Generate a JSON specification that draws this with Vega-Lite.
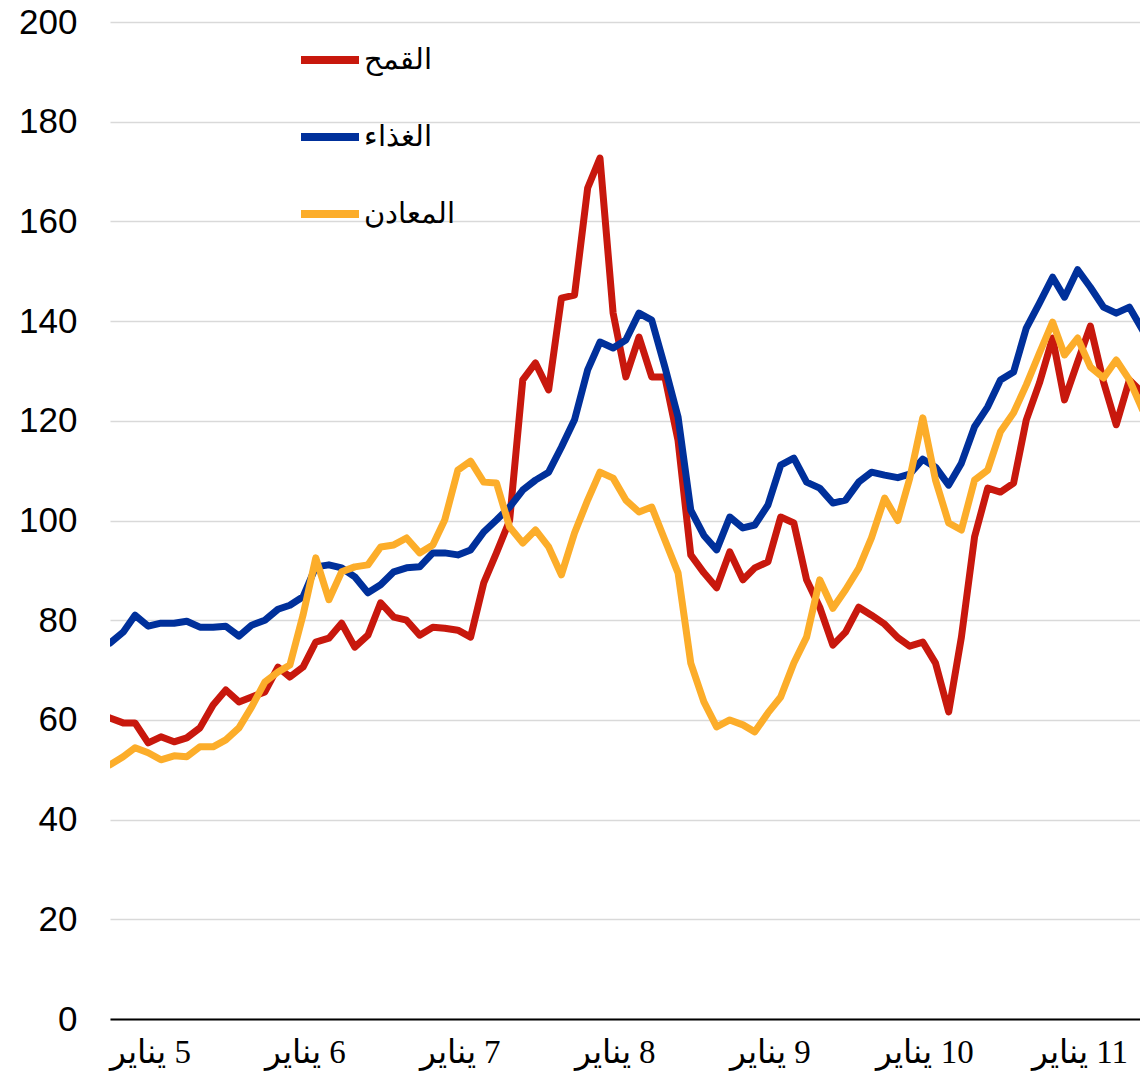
{
"$schema":"https://vega.github.io/schema/vega-lite/v6.json",
"width":1030,"height":997,
"autosize":{"type":"none"},
"padding":{"left":110,"top":22,"right":0,"bottom":63},
"background":"white",
"config":{"view":{"stroke":null}},
"data":{"values":[
{"date":"2005-01-01","series":"القمح","value":60.4},{"date":"2005-02-01","series":"القمح","value":59.4},{"date":"2005-03-01","series":"القمح","value":59.4},{"date":"2005-04-01","series":"القمح","value":55.4},{"date":"2005-05-01","series":"القمح","value":56.6},{"date":"2005-06-01","series":"القمح","value":55.6},{"date":"2005-07-01","series":"القمح","value":56.4},{"date":"2005-08-01","series":"القمح","value":58.4},{"date":"2005-09-01","series":"القمح","value":63.0},{"date":"2005-10-01","series":"القمح","value":66.0},{"date":"2005-11-01","series":"القمح","value":63.6},{"date":"2005-12-01","series":"القمح","value":64.6},
{"date":"2006-01-01","series":"القمح","value":65.6},{"date":"2006-02-01","series":"القمح","value":70.6},{"date":"2006-03-01","series":"القمح","value":68.6},{"date":"2006-04-01","series":"القمح","value":70.6},{"date":"2006-05-01","series":"القمح","value":75.6},{"date":"2006-06-01","series":"القمح","value":76.4},{"date":"2006-07-01","series":"القمح","value":79.4},{"date":"2006-08-01","series":"القمح","value":74.6},{"date":"2006-09-01","series":"القمح","value":77.0},{"date":"2006-10-01","series":"القمح","value":83.5},{"date":"2006-11-01","series":"القمح","value":80.6},{"date":"2006-12-01","series":"القمح","value":80.0},
{"date":"2007-01-01","series":"القمح","value":77.0},{"date":"2007-02-01","series":"القمح","value":78.6},{"date":"2007-03-01","series":"القمح","value":78.4},{"date":"2007-04-01","series":"القمح","value":78.0},{"date":"2007-05-01","series":"القمح","value":76.6},{"date":"2007-06-01","series":"القمح","value":87.5},{"date":"2007-07-01","series":"القمح","value":93.5},{"date":"2007-08-01","series":"القمح","value":100.0},{"date":"2007-09-01","series":"القمح","value":128.2},{"date":"2007-10-01","series":"القمح","value":131.6},{"date":"2007-11-01","series":"القمح","value":126.2},{"date":"2007-12-01","series":"القمح","value":144.6},
{"date":"2008-01-01","series":"القمح","value":145.2},{"date":"2008-02-01","series":"القمح","value":166.7},{"date":"2008-03-01","series":"القمح","value":172.7},{"date":"2008-04-01","series":"القمح","value":141.6},{"date":"2008-05-01","series":"القمح","value":128.8},{"date":"2008-06-01","series":"القمح","value":136.8},{"date":"2008-07-01","series":"القمح","value":128.8},{"date":"2008-08-01","series":"القمح","value":128.8},{"date":"2008-09-01","series":"القمح","value":116.1},{"date":"2008-10-01","series":"القمح","value":93.1},{"date":"2008-11-01","series":"القمح","value":89.5},{"date":"2008-12-01","series":"القمح","value":86.5},
{"date":"2009-01-01","series":"القمح","value":93.7},{"date":"2009-02-01","series":"القمح","value":88.1},{"date":"2009-03-01","series":"القمح","value":90.5},{"date":"2009-04-01","series":"القمح","value":91.7},{"date":"2009-05-01","series":"القمح","value":100.7},{"date":"2009-06-01","series":"القمح","value":99.5},{"date":"2009-07-01","series":"القمح","value":88.1},{"date":"2009-08-01","series":"القمح","value":82.6},{"date":"2009-09-01","series":"القمح","value":75.0},{"date":"2009-10-01","series":"القمح","value":77.6},{"date":"2009-11-01","series":"القمح","value":82.6},{"date":"2009-12-01","series":"القمح","value":81.0},
{"date":"2010-01-01","series":"القمح","value":79.2},{"date":"2010-02-01","series":"القمح","value":76.5},{"date":"2010-03-01","series":"القمح","value":74.8},{"date":"2010-04-01","series":"القمح","value":75.6},{"date":"2010-05-01","series":"القمح","value":71.4},{"date":"2010-06-01","series":"القمح","value":61.6},{"date":"2010-07-01","series":"القمح","value":76.6},{"date":"2010-08-01","series":"القمح","value":96.7},{"date":"2010-09-01","series":"القمح","value":106.5},{"date":"2010-10-01","series":"القمح","value":105.7},{"date":"2010-11-01","series":"القمح","value":107.5},{"date":"2010-12-01","series":"القمح","value":120.2},
{"date":"2011-01-01","series":"القمح","value":127.6},{"date":"2011-02-01","series":"القمح","value":136.6},{"date":"2011-03-01","series":"القمح","value":124.2},{"date":"2011-04-01","series":"القمح","value":131.8},{"date":"2011-05-01","series":"القمح","value":139.0},{"date":"2011-06-01","series":"القمح","value":127.8},{"date":"2011-07-01","series":"القمح","value":119.2},{"date":"2011-08-01","series":"القمح","value":128.2},{"date":"2011-09-01","series":"القمح","value":125.6},
{"date":"2005-01-01","series":"الغذاء","value":75.4},{"date":"2005-02-01","series":"الغذاء","value":77.6},{"date":"2005-03-01","series":"الغذاء","value":81.0},{"date":"2005-04-01","series":"الغذاء","value":78.8},{"date":"2005-05-01","series":"الغذاء","value":79.4},{"date":"2005-06-01","series":"الغذاء","value":79.4},{"date":"2005-07-01","series":"الغذاء","value":79.8},{"date":"2005-08-01","series":"الغذاء","value":78.6},{"date":"2005-09-01","series":"الغذاء","value":78.6},{"date":"2005-10-01","series":"الغذاء","value":78.8},{"date":"2005-11-01","series":"الغذاء","value":76.8},{"date":"2005-12-01","series":"الغذاء","value":79.0},
{"date":"2006-01-01","series":"الغذاء","value":80.0},{"date":"2006-02-01","series":"الغذاء","value":82.2},{"date":"2006-03-01","series":"الغذاء","value":83.0},{"date":"2006-04-01","series":"الغذاء","value":84.7},{"date":"2006-05-01","series":"الغذاء","value":90.7},{"date":"2006-06-01","series":"الغذاء","value":91.1},{"date":"2006-07-01","series":"الغذاء","value":90.5},{"date":"2006-08-01","series":"الغذاء","value":88.7},{"date":"2006-09-01","series":"الغذاء","value":85.5},{"date":"2006-10-01","series":"الغذاء","value":87.1},{"date":"2006-11-01","series":"الغذاء","value":89.7},{"date":"2006-12-01","series":"الغذاء","value":90.5},
{"date":"2007-01-01","series":"الغذاء","value":90.7},{"date":"2007-02-01","series":"الغذاء","value":93.5},{"date":"2007-03-01","series":"الغذاء","value":93.5},{"date":"2007-04-01","series":"الغذاء","value":93.1},{"date":"2007-05-01","series":"الغذاء","value":94.1},{"date":"2007-06-01","series":"الغذاء","value":97.7},{"date":"2007-07-01","series":"الغذاء","value":100.1},{"date":"2007-08-01","series":"الغذاء","value":102.7},{"date":"2007-09-01","series":"الغذاء","value":106.1},{"date":"2007-10-01","series":"الغذاء","value":108.1},{"date":"2007-11-01","series":"الغذاء","value":109.7},{"date":"2007-12-01","series":"الغذاء","value":114.7},
{"date":"2008-01-01","series":"الغذاء","value":120.2},{"date":"2008-02-01","series":"الغذاء","value":130.2},{"date":"2008-03-01","series":"الغذاء","value":135.8},{"date":"2008-04-01","series":"الغذاء","value":134.6},{"date":"2008-05-01","series":"الغذاء","value":136.2},{"date":"2008-06-01","series":"الغذاء","value":141.6},{"date":"2008-07-01","series":"الغذاء","value":140.2},{"date":"2008-08-01","series":"الغذاء","value":130.8},{"date":"2008-09-01","series":"الغذاء","value":120.8},{"date":"2008-10-01","series":"الغذاء","value":102.1},{"date":"2008-11-01","series":"الغذاء","value":97.0},{"date":"2008-12-01","series":"الغذاء","value":94.1},
{"date":"2009-01-01","series":"الغذاء","value":100.7},{"date":"2009-02-01","series":"الغذاء","value":98.5},{"date":"2009-03-01","series":"الغذاء","value":99.1},{"date":"2009-04-01","series":"الغذاء","value":103.1},{"date":"2009-05-01","series":"الغذاء","value":111.1},{"date":"2009-06-01","series":"الغذاء","value":112.5},{"date":"2009-07-01","series":"الغذاء","value":107.7},{"date":"2009-08-01","series":"الغذاء","value":106.5},{"date":"2009-09-01","series":"الغذاء","value":103.5},{"date":"2009-10-01","series":"الغذاء","value":104.1},{"date":"2009-11-01","series":"الغذاء","value":107.7},{"date":"2009-12-01","series":"الغذاء","value":109.7},
{"date":"2010-01-01","series":"الغذاء","value":109.1},{"date":"2010-02-01","series":"الغذاء","value":108.6},{"date":"2010-03-01","series":"الغذاء","value":109.3},{"date":"2010-04-01","series":"الغذاء","value":112.3},{"date":"2010-05-01","series":"الغذاء","value":110.7},{"date":"2010-06-01","series":"الغذاء","value":107.1},{"date":"2010-07-01","series":"الغذاء","value":111.5},{"date":"2010-08-01","series":"الغذاء","value":118.8},{"date":"2010-09-01","series":"الغذاء","value":122.8},{"date":"2010-10-01","series":"الغذاء","value":128.2},{"date":"2010-11-01","series":"الغذاء","value":129.8},{"date":"2010-12-01","series":"الغذاء","value":138.6},
{"date":"2011-01-01","series":"الغذاء","value":143.6},{"date":"2011-02-01","series":"الغذاء","value":148.8},{"date":"2011-03-01","series":"الغذاء","value":144.8},{"date":"2011-04-01","series":"الغذاء","value":150.3},{"date":"2011-05-01","series":"الغذاء","value":146.8},{"date":"2011-06-01","series":"الغذاء","value":142.8},{"date":"2011-07-01","series":"الغذاء","value":141.6},{"date":"2011-08-01","series":"الغذاء","value":142.8},{"date":"2011-09-01","series":"الغذاء","value":138.2},
{"date":"2005-01-01","series":"المعادن","value":51.0},{"date":"2005-02-01","series":"المعادن","value":52.6},{"date":"2005-03-01","series":"المعادن","value":54.4},{"date":"2005-04-01","series":"المعادن","value":53.4},{"date":"2005-05-01","series":"المعادن","value":52.0},{"date":"2005-06-01","series":"المعادن","value":52.8},{"date":"2005-07-01","series":"المعادن","value":52.6},{"date":"2005-08-01","series":"المعادن","value":54.6},{"date":"2005-09-01","series":"المعادن","value":54.6},{"date":"2005-10-01","series":"المعادن","value":56.0},{"date":"2005-11-01","series":"المعادن","value":58.4},{"date":"2005-12-01","series":"المعادن","value":62.6},
{"date":"2006-01-01","series":"المعادن","value":67.6},{"date":"2006-02-01","series":"المعادن","value":69.6},{"date":"2006-03-01","series":"المعادن","value":71.0},{"date":"2006-04-01","series":"المعادن","value":81.0},{"date":"2006-05-01","series":"المعادن","value":92.5},{"date":"2006-06-01","series":"المعادن","value":84.1},{"date":"2006-07-01","series":"المعادن","value":89.7},{"date":"2006-08-01","series":"المعادن","value":90.7},{"date":"2006-09-01","series":"المعادن","value":91.1},{"date":"2006-10-01","series":"المعادن","value":94.7},{"date":"2006-11-01","series":"المعادن","value":95.1},{"date":"2006-12-01","series":"المعادن","value":96.5},
{"date":"2007-01-01","series":"المعادن","value":93.5},{"date":"2007-02-01","series":"المعادن","value":95.1},{"date":"2007-03-01","series":"المعادن","value":100.1},{"date":"2007-04-01","series":"المعادن","value":110.1},{"date":"2007-05-01","series":"المعادن","value":111.9},{"date":"2007-06-01","series":"المعادن","value":107.7},{"date":"2007-07-01","series":"المعادن","value":107.5},{"date":"2007-08-01","series":"المعادن","value":98.7},{"date":"2007-09-01","series":"المعادن","value":95.5},{"date":"2007-10-01","series":"المعادن","value":98.1},{"date":"2007-11-01","series":"المعادن","value":94.7},{"date":"2007-12-01","series":"المعادن","value":89.1},
{"date":"2008-01-01","series":"المعادن","value":97.5},{"date":"2008-02-01","series":"المعادن","value":104.1},{"date":"2008-03-01","series":"المعادن","value":109.7},{"date":"2008-04-01","series":"المعادن","value":108.5},{"date":"2008-05-01","series":"المعادن","value":104.1},{"date":"2008-06-01","series":"المعادن","value":101.7},{"date":"2008-07-01","series":"المعادن","value":102.7},{"date":"2008-08-01","series":"المعادن","value":96.1},{"date":"2008-09-01","series":"المعادن","value":89.5},{"date":"2008-10-01","series":"المعادن","value":71.4},{"date":"2008-11-01","series":"المعادن","value":63.6},{"date":"2008-12-01","series":"المعادن","value":58.6},
{"date":"2009-01-01","series":"المعادن","value":60.0},{"date":"2009-02-01","series":"المعادن","value":59.0},{"date":"2009-03-01","series":"المعادن","value":57.6},{"date":"2009-04-01","series":"المعادن","value":61.4},{"date":"2009-05-01","series":"المعادن","value":64.6},{"date":"2009-06-01","series":"المعادن","value":71.4},{"date":"2009-07-01","series":"المعادن","value":76.6},{"date":"2009-08-01","series":"المعادن","value":88.1},{"date":"2009-09-01","series":"المعادن","value":82.4},{"date":"2009-10-01","series":"المعادن","value":86.1},{"date":"2009-11-01","series":"المعادن","value":90.4},{"date":"2009-12-01","series":"المعادن","value":96.5},
{"date":"2010-01-01","series":"المعادن","value":104.5},{"date":"2010-02-01","series":"المعادن","value":100.0},{"date":"2010-03-01","series":"المعادن","value":108.4},{"date":"2010-04-01","series":"المعادن","value":120.6},{"date":"2010-05-01","series":"المعادن","value":108.1},{"date":"2010-06-01","series":"المعادن","value":99.5},{"date":"2010-07-01","series":"المعادن","value":98.1},{"date":"2010-08-01","series":"المعادن","value":108.1},{"date":"2010-09-01","series":"المعادن","value":110.1},{"date":"2010-10-01","series":"المعادن","value":117.8},{"date":"2010-11-01","series":"المعادن","value":121.6},{"date":"2010-12-01","series":"المعادن","value":127.2},
{"date":"2011-01-01","series":"المعادن","value":133.6},{"date":"2011-02-01","series":"المعادن","value":139.8},{"date":"2011-03-01","series":"المعادن","value":133.2},{"date":"2011-04-01","series":"المعادن","value":136.6},{"date":"2011-05-01","series":"المعادن","value":130.8},{"date":"2011-06-01","series":"المعادن","value":128.6},{"date":"2011-07-01","series":"المعادن","value":132.2},{"date":"2011-08-01","series":"المعادن","value":128.2},{"date":"2011-09-01","series":"المعادن","value":122.2}
]},
"mark":{"type":"line","strokeWidth":7,"strokeJoin":"round","strokeCap":"round","clip":true},
"encoding":{
"x":{"field":"date","type":"temporal",
"scale":{"type":"utc","domain":[{"year":2005,"month":1,"date":1,"utc":true},{"year":2011,"month":8,"date":26,"utc":true}]},
"axis":{"title":null,"grid":false,"ticks":false,"domainColor":"#000000","domainWidth":2,"tickCount":{"interval":"year","step":1},"labelExpr":"'\u200F' + toNumber(utcFormat(datum.value,'%y')) + ' يناير'","labelFont":"Liberation Serif","labelFontSize":33,"labelColor":"#000000","labelOffset":40,"labelPadding":17,"labelOverlap":false,"labelFlush":false,"labelBound":false}},
"y":{"field":"value","type":"quantitative","scale":{"domain":[0,200],"nice":false},
"axis":{"title":null,"values":[0,20,40,60,80,100,120,140,160,180,200],"domain":false,"ticks":false,"gridColor":"#D9D9D9","gridWidth":1.3,"labelFont":"Liberation Sans","labelFontSize":35,"labelColor":"#000000","labelPadding":33}},
"color":{"field":"series","type":"nominal","scale":{"domain":["القمح","الغذاء","المعادن"],"range":["#C8180D","#00309B","#FCAD2A"]},
"legend":{"orient":"none","legendX":187,"legendY":5,"title":null,"padding":0,"symbolType":"stroke","symbolSize":3364,"symbolStrokeWidth":8,"labelFont":"Liberation Serif","labelFontSize":29,"labelColor":"#000000","labelOffset":1,"rowPadding":28}}
}
}
